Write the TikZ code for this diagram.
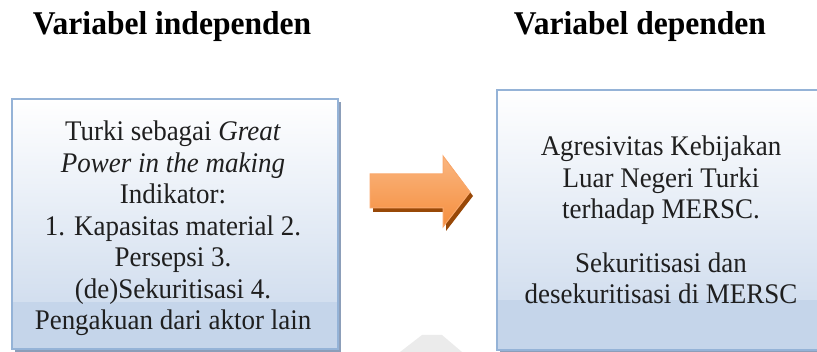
\documentclass[tikz,border=0pt]{standalone}
\usepackage{fontspec}
\setmainfont{Liberation Serif}[FakeStretch=0.95]
\usetikzlibrary{calc}
\definecolor{boxborder}{RGB}{149,179,215}
\definecolor{boxbottom}{RGB}{200,215,235}
\definecolor{boxband}{RGB}{197,213,234}
\definecolor{boxshadow}{RGB}{140,158,185}
\definecolor{arrowfill}{RGB}{245,142,62}
\definecolor{arrowtop}{RGB}{250,182,128}
\definecolor{arrowedge}{RGB}{249,168,108}
\definecolor{arrowshadow}{RGB}{152,72,7}
\begin{document}
\begin{tikzpicture}[x=1pt,y=-1pt,
  title/.style={font=\fontsize{33.2}{38}\selectfont\bfseries, anchor=base, inner sep=0pt},
  body/.style={font=\fontsize{28.4}{31.5}\selectfont, align=center, inner sep=0pt, text=black!88},
  vbox/.style={top color=white, bottom color=boxbottom, inner sep=0pt, outer sep=0pt, anchor=north west},
  vborder/.style={draw=boxborder, line width=2.5pt},
  vshadow/.style={fill=boxshadow},
  vband/.style={fill=boxband},
  blockarrow/.style={top color=arrowtop, bottom color=arrowfill, draw=arrowedge, line width=1pt, line join=miter},
  blockshadow/.style={fill=arrowshadow}
]
\useasboundingbox (0,0) rectangle (817,352);

% titles
\node[title] (tl) at (172,35) {Variabel independen};
\node[title] (tr) at (640,35) {Variabel dependen};

% left box
\fill[vshadow] (15,102) rectangle (341,353);
\node[vbox, minimum width=326pt, minimum height=250pt] (lbox) at (12,99) {};
\fill[vband] ($(lbox.south west)+(1.2,-1.2)$) rectangle ($(lbox.east |- 0,302)+(-1.2,0)$);
\draw[vborder] (lbox.south west) rectangle (lbox.north east);

% right box
\fill[vshadow] (500,93) rectangle (830,353);
\node[vbox, minimum width=330pt, minimum height=260pt] (rbox) at (497,90) {};
\fill[vband] ($(rbox.south west)+(1.2,-1.2)$) rectangle ($(rbox.east |- 0,300)+(-1.2,0)$);
\draw[vborder] (rbox.south west) rectangle (rbox.north east);

% faint watermark fragment
\fill[gray!16] (400,352) -- (422,335) -- (442,335) -- (462,352) -- cycle;

% block arrow
\fill[blockshadow] (373,178) -- (446,178) -- (446,160) -- (473,196) -- (446,231) -- (446,212) -- (373,212) -- cycle;
\path[blockarrow] (370,174) -- (443,174) -- (443,156) -- (470,192) -- (443,227) -- (443,208) -- (370,208) -- cycle;

% texts
\node[body] (ltext) at (173,228.5) {Turki sebagai \textit{Great}\\ \textit{Power in the making}\\ Indikator:\\ 1. Kapasitas material 2.\\ Persepsi 3.\\ (de)Sekuritisasi 4.\\ Pengakuan dari aktor lain};
\node[body] (rtext) at (661,220) {Agresivitas Kebijakan\\ Luar Negeri Turki\\ terhadap MERSC.\\[22pt] Sekuritisasi dan\\ desekuritisasi di MERSC};
\end{tikzpicture}
\end{document}
